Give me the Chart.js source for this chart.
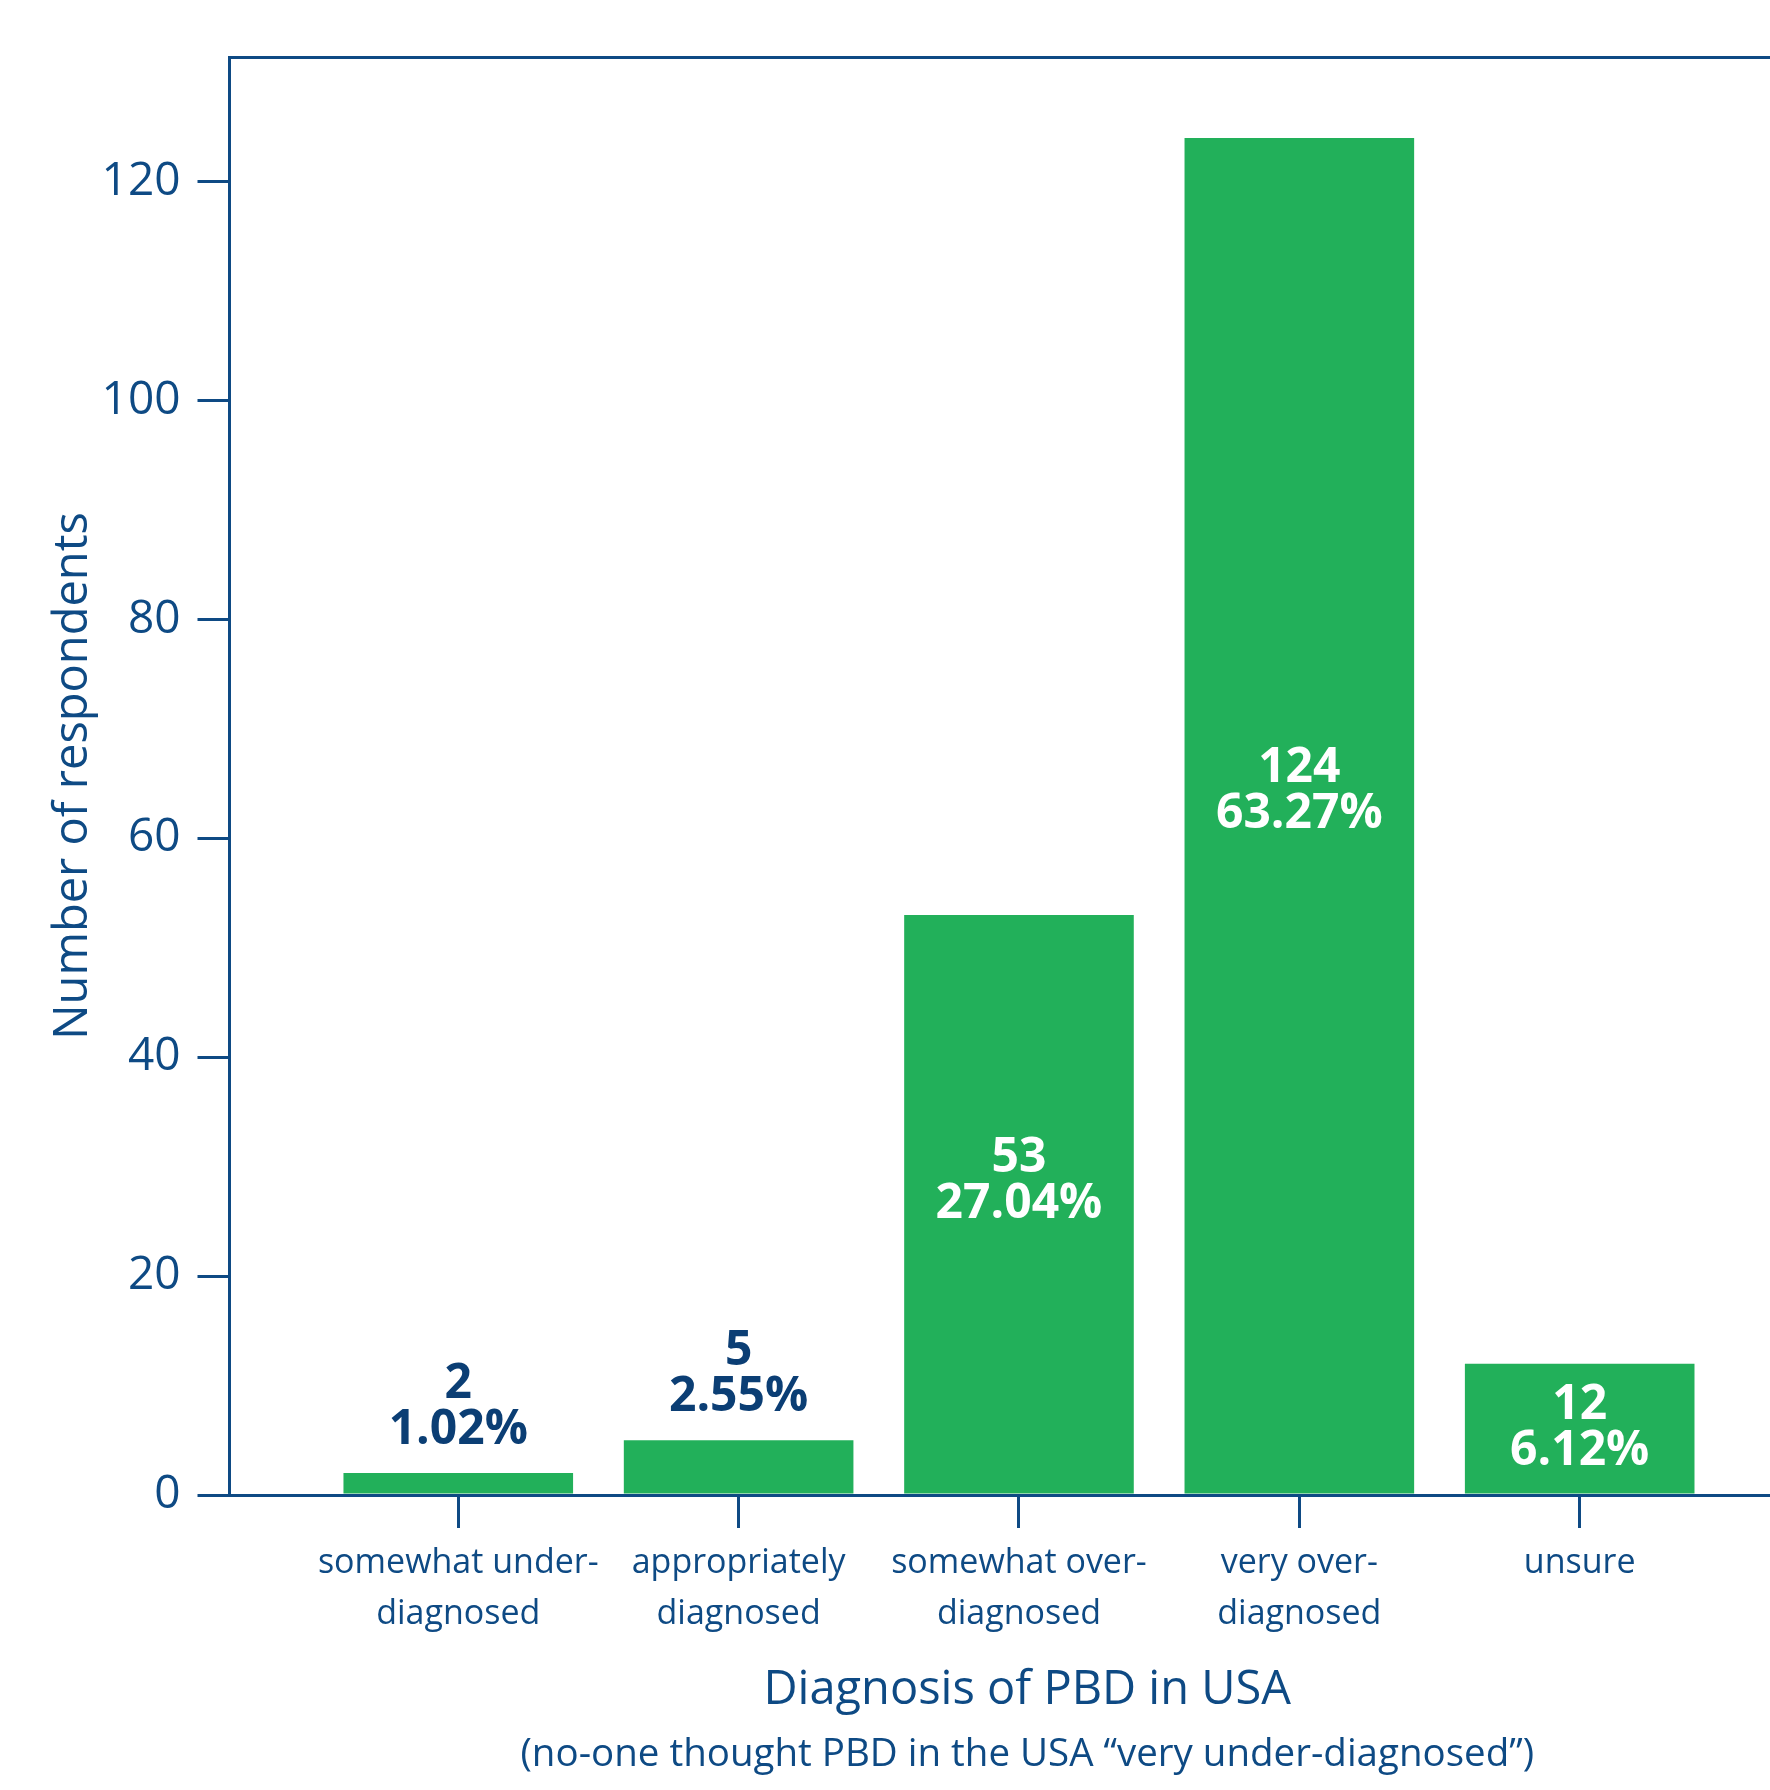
<!DOCTYPE html>
<html>
<head>
<meta charset="utf-8">
<title>Diagnosis of PBD in USA</title>
<script src="https://cdn.jsdelivr.net/npm/chart.js@4"></script>
<style>
    html, body { margin: 0; padding: 0; background: #ffffff; }
    /* the plot runs on past the right edge of the page */
    #wrap { width: 1770px; height: 1790px; overflow: hidden; }
    canvas { display: block; }
</style>
</head>
<body>
<div id="wrap">
    <canvas id="diagnosisChart" width="1825" height="1790"></canvas>
</div>
<script>
// survey answers, one bar per answer
const categories = [
    ['somewhat under-', 'diagnosed'],
    ['appropriately', 'diagnosed'],
    ['somewhat over-', 'diagnosed'],
    ['very over-', 'diagnosed'],
    ['unsure']
];
const counts = [2, 5, 53, 124, 12];
const shares = [1.02, 2.55, 27.04, 63.27, 6.12];
const yTicks = [0, 20, 40, 60, 80, 100, 120];

const BLUE = '#0e4a84';
const DARK = '#0b3e74';
const GREEN = '#22b05a';
const FONT = '"Open Sans", "Noto Sans", sans-serif';

const X_MIN = -0.816;
const X_MAX = 4.875;

// count and share written on (or above) each bar
const barLabels = {
    id: 'barLabels',
    afterDatasetsDraw(chart) {
        const ctx = chart.ctx;
        const meta = chart.getDatasetMeta(0);
        ctx.save();
        ctx.font = 'bold 48px ' + FONT;
        ctx.textAlign = 'center';
        ctx.textBaseline = 'middle';
        meta.data.forEach((bar, i) => {
            const lines = [String(counts[i]), shares[i].toFixed(2) + '%'];
            const h = bar.base - bar.y;
            let mid;
            if (h > 110) {
                ctx.fillStyle = '#ffffff';
                mid = (bar.y + bar.base) / 2 - Math.min(30, h * 0.05) + 3;
            } else {
                ctx.fillStyle = DARK;
                mid = bar.y - 69;
            }
            ctx.fillText(lines[0], bar.x, mid - 23 + 3);
            ctx.fillText(lines[1], bar.x, mid + 23 + 3);
        });
        ctx.restore();
    }
};

const ctx = document.getElementById('diagnosisChart').getContext('2d');

new Chart(ctx, {
    type: 'bar',
    data: {
        datasets: [{
            data: counts.map((v, i) => ({ x: i, y: v })),
            backgroundColor: GREEN,
            borderWidth: 0,
            categoryPercentage: 1,
            barPercentage: 0.819
        }]
    },
    options: {
        responsive: false,
        animation: false,
        devicePixelRatio: 1,
        layout: { padding: { top: 57, left: 0, right: 0, bottom: 0 } },
        plugins: {
            legend: { display: false },
            tooltip: { enabled: false }
        },
        scales: {
            x: {
                type: 'linear',
                position: 'bottom',
                weight: 0,
                offset: false,
                min: X_MIN,
                max: X_MAX,
                afterBuildTicks: scale => {
                    scale.ticks = categories.map((c, i) => ({ value: i }));
                },
                afterFit: scale => { scale.height = 230; },
                ticks: {
                    autoSkip: false,
                    maxRotation: 0,
                    minRotation: 0,
                    padding: 10,
                    color: BLUE,
                    font: { family: FONT, size: 34, lineHeight: 1.5 },
                    callback: value => categories[value]
                },
                grid: {
                    offset: false,
                    drawOnChartArea: false,
                    tickLength: 33,
                    color: BLUE,
                    lineWidth: 3
                },
                border: { color: BLUE, width: 3 },
                title: {
                    display: true,
                    text: 'Diagnosis of PBD in USA',
                    color: BLUE,
                    font: { family: FONT, size: 47, lineHeight: 1.2 },
                    padding: { top: 0, bottom: 6 }
                }
            },
            xNote: {
                type: 'linear',
                position: 'bottom',
                weight: 1,
                offset: false,
                min: X_MIN,
                max: X_MAX,
                afterFit: scale => { scale.height = 65; },
                ticks: { display: false },
                grid: { display: false, drawTicks: false, offset: false },
                border: { display: false },
                title: {
                    display: true,
                    text: '(no-one thought PBD in the USA \u201cvery under-diagnosed\u201d)',
                    color: BLUE,
                    font: { family: FONT, size: 38.5, lineHeight: 1.2 },
                    padding: { top: 0, bottom: 12 }
                }
            },
            xTop: {
                type: 'linear',
                position: 'top',
                offset: false,
                min: X_MIN,
                max: X_MAX,
                ticks: { display: false },
                grid: { display: false, drawTicks: false, offset: false },
                border: { color: BLUE, width: 3 }
            },
            y: {
                min: 0,
                max: 131.4,
                afterFit: scale => { scale.width = 229.5; },
                afterBuildTicks: scale => {
                    scale.ticks = yTicks.map(v => ({ value: v }));
                },
                ticks: {
                    padding: 17,
                    color: BLUE,
                    font: { family: FONT, size: 46 }
                },
                grid: {
                    drawOnChartArea: false,
                    tickLength: 32,
                    color: BLUE,
                    lineWidth: 3
                },
                border: { color: BLUE, width: 3 },
                title: {
                    display: true,
                    text: 'Number of respondents',
                    color: BLUE,
                    font: { family: FONT, size: 47, lineHeight: 1.2 },
                    padding: { top: 45, bottom: 0 }
                }
            }
        }
    },
    plugins: [barLabels]
});
</script>
</body>
</html>
